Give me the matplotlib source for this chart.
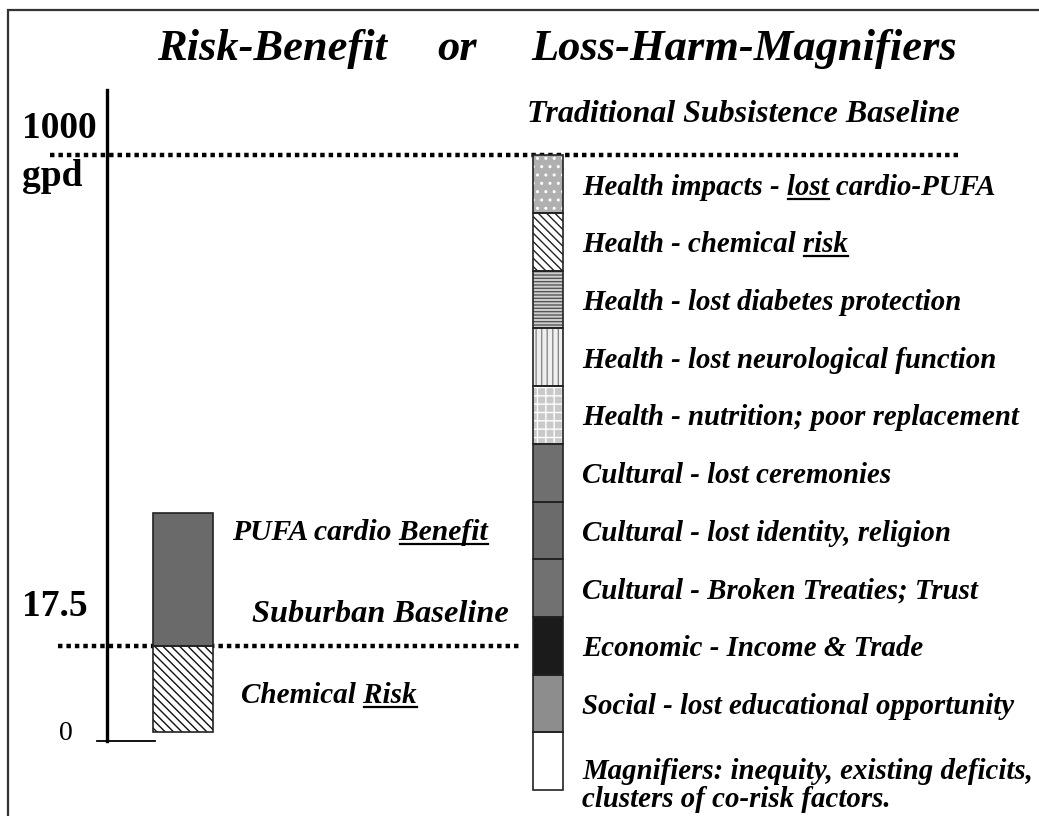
import numpy as np
import matplotlib.pyplot as plt

# data: schematic stacked columns (arbitrary units, 1 unit per harm category)
harm_labels = [
    'Health impacts - lost cardio-PUFA',
    'Health - chemical risk',
    'Health - lost diabetes protection',
    'Health - lost neurological function',
    'Health - nutrition; poor replacement',
    'Cultural - lost ceremonies',
    'Cultural - lost identity, religion',
    'Cultural - Broken Treaties; Trust',
    'Economic - Income & Trade',
    'Social - lost educational opportunity',
    'Magnifiers: inequity, existing deficits,\nclusters of co-risk factors.',
]
harm_underline = ['lost', 'risk', None, None, None, None, None, None, None, None, None]
harm_sizes = [1, 1, 1, 1, 1, 1, 1, 1, 1, 1, 1]
harm_faces = ['#b0b0b0', 'white', '#cfcfcf', '#efefef', '#c9c9c9',
              '#6f6f6f', '#6b6b6b', '#717171', '#1b1b1b', '#8d8d8d', 'white']
harm_hatch = ['..', '\\\\\\\\', '-----', '|||', '++', None, None, None, None, None, None]
harm_hatch_col = ['white', '#222222', '#555555', '#8a8a8a', 'white',
                  None, None, None, None, None, None]

left_labels = ['Chemical Risk', 'PUFA cardio Benefit']
left_underline = ['Risk', 'Benefit']
left_sizes = [1.5, 2.3]
left_start = 1.0
suburban = 2.5
traditional = 11.0

PX = 57.7  # pixels per unit


def py(p):
    # pixel-from-top -> data y
    return (790 - p) / PX


fig = plt.figure(figsize=(10.39, 8.16), dpi=100)
ax = fig.add_axes([0, 0, 1, 1])
ax.set_xlim(0, 1039)
ax.set_ylim(py(816), py(0))
ax.axis('off')

serif = 'Liberation Serif'
bi = dict(family=serif, weight='bold', style='italic', color='black')

# frame
ax.plot([8, 8, 1039], [py(816), py(10), py(10)], color='#333333', lw=1.6,
        solid_joinstyle='miter')

# title
ax.text(157, py(49), 'Risk-Benefit', fontsize=32, va='center', ha='left', **bi)
ax.text(437, py(49), 'or', fontsize=32, va='center', ha='left', **bi)
ax.text(531, py(49), 'Loss-Harm-Magnifiers', fontsize=32, va='center', ha='left', **bi)

# vertical scale
ax.plot([107, 107], [py(90), py(741)], color='black', lw=2.4)
ax.plot([97, 155], [py(741), py(741)], color='black', lw=1.3)

ax.text(22, py(128), '1000', fontsize=27, family=serif, weight='bold', va='center')
ax.text(22, py(176), 'gpd', fontsize=27, family=serif, weight='bold', va='center')
ax.text(22, py(606), '17.5', fontsize=27, family=serif, weight='bold', va='center')
ax.text(59, py(733), '0', fontsize=20, family=serif, va='center')

# baselines
ax.plot([50, 962], [traditional, traditional], color='black', lw=3.2,
        ls=(0, (1, 0.9)), zorder=1)
ax.plot([58, 520], [suburban, suburban], color='black', lw=3.2,
        ls=(0, (1, 0.9)), zorder=1)
ax.text(743, py(115), 'Traditional Subsistence Baseline', fontsize=23,
        ha='center', va='center', **bi)
ax.text(252, py(614), 'Suburban Baseline', fontsize=23.3, ha='left', va='center', **bi)

# left column
lbot = left_start
lfaces = ['white', '#6a6a6a']
lhatch = ['\\\\\\\\', None]
for i, h in enumerate(left_sizes):
    ax.bar(183, h, width=60, bottom=lbot, color=lfaces[i], hatch=lhatch[i],
           edgecolor='#111111' if lhatch[i] else lfaces[i], lw=0, zorder=2)
    ax.bar(183, h, width=60, bottom=lbot, fill=False, edgecolor='#222222',
           lw=1.2, zorder=3)
    lbot += h

# right column
bots = np.concatenate([[0], np.cumsum(harm_sizes[::-1])[:-1]])[::-1]
for i, h in enumerate(harm_sizes):
    b = bots[i]
    ax.bar(548, h, width=30, bottom=b, color=harm_faces[i], hatch=harm_hatch[i],
           edgecolor=harm_hatch_col[i] if harm_hatch[i] else harm_faces[i],
           lw=0, zorder=2)
    ax.bar(548, h, width=30, bottom=b, fill=False, edgecolor='#222222',
           lw=1.2, zorder=3)

fig.canvas.draw()
r = fig.canvas.get_renderer()


def text_w(s, size):
    t = ax.text(0, 0, s, fontsize=size, **bi)
    w = t.get_window_extent(renderer=r).width
    t.remove()
    return w


def label(x, ybase, s, ul, size):
    ax.text(x, ybase, s, fontsize=size, ha='left', va='baseline', **bi)
    if ul:
        k = s.index(ul) + len(ul)
        x1 = x + text_w(s[:k], size)
        x0 = x1 - text_w(ul, size)
        yl = ybase - 4 / PX
        ax.plot([x0 + 1, x1], [yl, yl], color='black', lw=1.6)


# right labels
fs = 20.8
for i, s in enumerate(harm_labels):
    c = bots[i] + harm_sizes[i] / 2
    if '\n' in s:
        lines = s.split('\n')
        ax.text(582, py(779), lines[0], fontsize=fs, ha='left', va='baseline', **bi)
        ax.text(582, py(807), lines[1], fontsize=fs, ha='left', va='baseline', **bi)
    else:
        label(582, c - 10.5 / PX, s, harm_underline[i], fs)

# left labels
label(241, py(703), left_labels[0], left_underline[0], 21)
label(232, py(540), left_labels[1], left_underline[1], 21.3)

fig.savefig('out.png', dpi=100)
